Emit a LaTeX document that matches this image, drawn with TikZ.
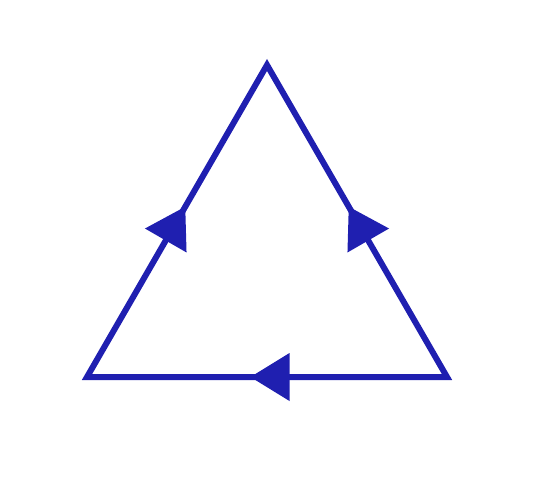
\documentclass[tikz,border=0pt]{standalone}
\usetikzlibrary{decorations.markings}
\definecolor{tri}{RGB}{31,31,176}
\tikzset{
  edge/.style={draw=tri, line width=6pt, line join=miter},
  midarrow/.style={decoration={markings, mark=at position 0.5 with {\fill[tri] (16.5pt,0pt) -- (-22.5pt,24pt) -- (-22.5pt,-24pt) -- cycle;}}, postaction={decorate}}
}
\begin{document}
\begin{tikzpicture}[x=1pt,y=-1pt]
\useasboundingbox (0,0) rectangle (548,476);
\coordinate (T) at (267,65);
\coordinate (L) at (87,377);
\coordinate (R) at (447,377);
\draw[edge] (T) -- (R) -- (L) -- cycle;
\path[midarrow] (R) -- (L);
\path[midarrow] (L) -- (T);
\path[midarrow] (R) -- (T);
\end{tikzpicture}
\end{document}
